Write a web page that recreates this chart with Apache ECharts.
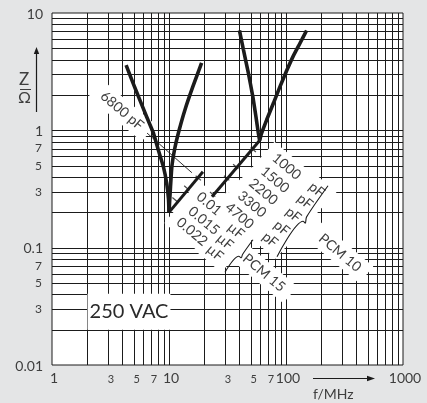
<!DOCTYPE html>
<html><head><meta charset="utf-8">
<script src="https://cdn.jsdelivr.net/npm/echarts@6/dist/echarts.min.js"></script>
<style>html,body{margin:0;padding:0;background:#e4e5e6;}#c{width:427px;height:403px;}</style>
</head><body><div id="c"></div>
<script>
// ---- grid & tick labels ----
const xGridLines = [2,3,4,5,6,7,8,9,10,20,30,40,50,60,70,80,90,100,200,300,400,500,600,700,800,900];
const yGridLines = [0.02,0.03,0.04,0.05,0.06,0.07,0.08,0.09,0.1,0.2,0.3,0.4,0.5,0.6,0.7,0.8,0.9,1,2,3,4,5,6,7,8,9];
const xDecadeLabels = [1,10,100,1000];
const xMinorLabels = [3,5,7,30,50,70];
const yDecadeLabels = [0.01,0.1,1,10];
const yMinorLabels = [0.03,0.05,0.07,0.3,0.5,0.7];

// ---- curves (f in MHz, Z in ohm) ----
const pcm15Left  = [[4.3,3.6],[4.95,2.5],[5.65,1.8],[6.45,1.3],[7.35,0.95],[8.1,0.68],[8.95,0.49],[9.55,0.355],[9.9,0.26],[10,0.2]];
const pcm15Right = [[10,0.2],[10.3,0.33],[10.6,0.5],[11.2,0.7],[12.2,1.0],[13.7,1.5],[16.1,2.4],[19,3.75]];
const pcm15Cap   = [[10,0.2],[19.5,0.443]];
const pcm10Left  = [[40,7.1],[43.2,4.9],[47.6,3.1],[52,1.95],[55.4,1.3],[58,0.95],[59.5,0.82]];
const pcm10Right = [[59.5,0.82],[62,0.95],[68.4,1.23],[78,1.7],[89,2.37],[101,3.2],[115,4.27],[132,5.55],[150,7.1]];
const pcm10Cap   = [[23.3,0.272],[59.5,0.82]];
const capTicks   = [[11.26,0.256],[14.2,0.322],[17.8,0.392],[23.6,0.285],[31.1,0.392],[37.2,0.492],[52.5,0.683]];
const leader6800 = [[6.49,0.948],[15.7,0.435]];
const bracePF    = [[228.6,0.337],[150,0.183],[146.2,0.1614],[140,0.168],[83.8,0.0836]];
const braceUF    = [[52.2,0.1168],[42.5,0.0875],[41.5,0.082],[39.5,0.0845],[30.1,0.0617]];

// ---- annotations ----
const noteTexts = ['6800 pF','1000','1500','2200','3300','4700','pF','pF','pF','pF','pF','0.01','0.015','0.022','µF','µF','µF','PCM 15','PCM 10'];
const noteSizes = [14,14,14,14,14,14,14,14,14,14,14,14,14,14,14,14,14,14,14];
const noteAt = [[3.97,1.47],[101.4,0.492],[80.5,0.379],[64,0.2996],[51.2,0.2344],[40.05,0.187],
  [183,0.3116],[145.3,0.2477],[115.5,0.1908],[91.9,0.147],[73,0.1168],
  [21.98,0.2367],[19.9,0.1696],[15.73,0.1366],[37.4,0.1393],[30.1,0.1123],[24.7,0.0904],
  [64.9,0.0611],[289.4,0.0904]];
const vacText = '250 VAC';
const vacAt = [4.55,0.0284];

const FONT = 'Lato, "Open Sans", sans-serif';
const INK = '#1b1b1b';
const TXT = '#3e3e3e';
const ROT = -40 * Math.PI / 180;

function mant(v){ const e = Math.floor(Math.log10(v) + 1e-9); return String(Math.round(v / Math.pow(10, e))); }
function txt(x, y, s, size, align, extra){
  return {type:'text', x:x, y:y, style:Object.assign({text:s, fill:TXT, fontSize:size, fontFamily:FONT, align:align, verticalAlign:'middle'}, extra || {})};
}

function renderGrid(params, api){
  const a = api.coord([1,0.01]), b = api.coord([1000,10]);
  const ch = [];
  xGridLines.forEach(v => { const x = Math.round(api.coord([v,1])[0]) + 0.5; ch.push({type:'line', shape:{x1:x,y1:b[1],x2:x,y2:a[1]}, style:{stroke:INK,lineWidth:1}}); });
  yGridLines.forEach(v => { const y = Math.round(api.coord([1,v])[1]) + 0.5; ch.push({type:'line', shape:{x1:a[0],y1:y,x2:b[0],y2:y}, style:{stroke:INK,lineWidth:1}}); });
  return {type:'group', children:ch};
}
function renderTickLabels(params, api){
  const ch = [];
  xDecadeLabels.forEach(v => { const p = api.coord([v,0.01]); ch.push(txt(p[0]+2, p[1]+13, String(v), 14, 'center')); });
  xMinorLabels.forEach(v => { const p = api.coord([v,0.01]); ch.push(txt(p[0]+3, p[1]+14, mant(v), 11, 'center')); });
  yDecadeLabels.forEach(v => { const p = api.coord([1,v]); ch.push(txt(p[0]-9, p[1]+1, String(v), 14, 'right')); });
  yMinorLabels.forEach(v => { const p = api.coord([1,v]); ch.push(txt(p[0]-10, p[1], mant(v), 12, 'right')); });
  return {type:'group', children:ch};
}
function noteEl(api, i, bgOnly){
  const p = api.coord([api.value(0), api.value(1)]);
  const extra = bgOnly ? {backgroundColor:'#fff', padding:[4,9], fill:'rgba(0,0,0,0)'} : {};
  const el = txt(p[0], p[1], noteTexts[i], noteSizes[i], 'center', extra);
  el.rotation = ROT;
  return el;
}
const renderNoteBg = (params, api) => noteEl(api, params.dataIndex, true);
const renderNoteText = (params, api) => noteEl(api, params.dataIndex, false);
function renderVac(params, api){
  const p = api.coord([api.value(0), api.value(1)]);
  return txt(p[0], p[1], vacText, 20, 'center', {backgroundColor:'#fff', padding:[8,2], fill:'#2a2a2a'});
}

const thick = (data, w) => ({type:'line', data:data, showSymbol:false, symbol:'none', smooth:0.15, z:5, silent:true,
  lineStyle:{color:INK, width:w}});

const chart = echarts.init(document.getElementById('c'));
chart.setOption({
  animation:false,
  backgroundColor:'#e4e5e6',
  grid:{left:52, top:13, right:24, bottom:38, show:true, backgroundColor:'#fff', borderColor:INK, borderWidth:1},
  xAxis:{type:'log', logBase:10, min:1, max:1000, axisLine:{show:false}, axisTick:{show:false}, axisLabel:{show:false}, splitLine:{show:false}},
  yAxis:{type:'log', logBase:10, min:0.01, max:10, axisLine:{show:false}, axisTick:{show:false}, axisLabel:{show:false}, splitLine:{show:false}},
  series:[
    {type:'custom', data:[[1,1]], renderItem:renderGrid, clip:false, silent:true, z:1},
    {type:'custom', data:[[1,1]], renderItem:renderTickLabels, clip:false, silent:true, z:1},
    {type:'custom', data:noteAt, renderItem:renderNoteBg, clip:false, silent:true, z:2},
    {type:'custom', data:noteAt, renderItem:renderNoteText, clip:false, silent:true, z:3},
    {type:'custom', data:[vacAt], renderItem:renderVac, clip:false, silent:true, z:3},
    thick(pcm15Left, 3.6), thick(pcm15Right, 3.6), thick(pcm10Left, 3.6), thick(pcm10Right, 3.6),
    Object.assign(thick(pcm15Cap, 3), {smooth:false}),
    Object.assign(thick(pcm10Cap, 3), {smooth:false}),
    {type:'line', data:leader6800, symbol:'none', silent:true, z:4, lineStyle:{color:INK, width:0.9}},
    {type:'line', data:bracePF, symbol:'none', smooth:0.3, silent:true, z:4, lineStyle:{color:INK, width:1.1}},
    {type:'line', data:braceUF, symbol:'none', smooth:0.3, silent:true, z:4, lineStyle:{color:INK, width:1.1}},
    {type:'scatter', data:capTicks, symbol:'rect', symbolSize:[1.2,7], symbolRotate:49, silent:true, z:6, itemStyle:{color:INK}}
  ],
  graphic:[
    {type:'text', left:19, top:71, style:{text:'Z', fontSize:17, fontFamily:FONT, fill:TXT}},
    {type:'line', shape:{x1:20, y1:89.5, x2:31, y2:89.5}, style:{stroke:TXT, lineWidth:1}},
    {type:'text', left:18, top:90, style:{text:'Ω', fontSize:16, fontFamily:FONT, fill:TXT}},
    {type:'line', shape:{x1:36.5, y1:112, x2:36.5, y2:52}, style:{stroke:INK, lineWidth:1.2}},
    {type:'polygon', shape:{points:[[36.5,47],[33.8,54],[39.2,54]]}, style:{fill:INK}},
    {type:'line', shape:{x1:313, y1:378.5, x2:368, y2:378.5}, style:{stroke:INK, lineWidth:1.2}},
    {type:'polygon', shape:{points:[[375,378.5],[367,375.8],[367,381.2]]}, style:{fill:INK}},
    {type:'text', left:313, top:387, style:{text:'f/MHz', fontSize:14, fontFamily:FONT, fill:TXT}}
  ]
});
</script></body></html>
